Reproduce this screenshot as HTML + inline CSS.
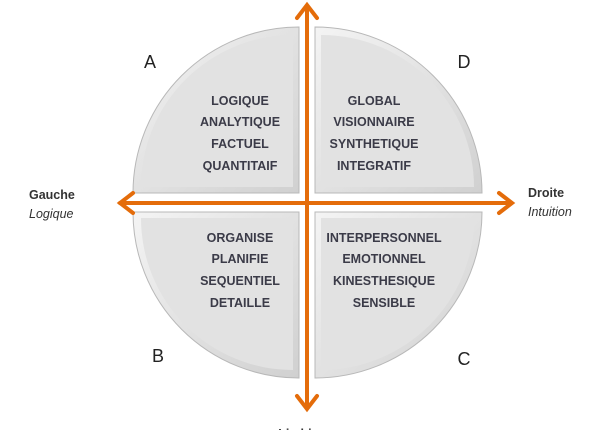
<!DOCTYPE html>
<html><head><meta charset="utf-8"><style>
html,body{margin:0;padding:0;background:#fff;}
svg{display:block;}
</style></head><body>
<svg width="610" height="430" viewBox="0 0 610 430" xmlns="http://www.w3.org/2000/svg">
<defs>
<linearGradient id="g" x1="0" y1="0" x2="1" y2="1">
<stop offset="0" stop-color="#f4f4f4"/><stop offset="1" stop-color="#d0d0d0"/>
</linearGradient>
</defs>
<g stroke="#b8b8b8" stroke-width="1" fill="url(#g)">
<path d="M299,193 L133,193 A166,166 0 0 1 299,27 Z"/>
<path d="M315,193 L315,27 A167,166 0 0 1 482,193 Z"/>
<path d="M299,212 L299,378 A166,166 0 0 1 133,212 Z"/>
<path d="M315,212 L482,212 A167,166 0 0 1 315,378 Z"/>
</g>
<g fill="#e2e2e2" stroke="none">
<path d="M293,187 L141,187 A152,152 0 0 1 293,35 Z"/>
<path d="M321,187 L321,35 A153,152 0 0 1 474,187 Z"/>
<path d="M293,218 L293,370 A152,152 0 0 1 141,218 Z"/>
<path d="M321,218 L474,218 A153,152 0 0 1 321,370 Z"/>
</g>
<g stroke="#E46C0A" stroke-width="4" fill="none" stroke-linecap="round" stroke-linejoin="miter">
<line x1="307" y1="6" x2="307" y2="408"/>
<line x1="120" y1="203" x2="511" y2="203"/>
<polyline points="297,18 307,5 317,18"/>
<polyline points="297,396 307,409 317,396"/>
<polyline points="133,193 120,203 133,213"/>
<polyline points="499,193 512,203 499,213"/>
</g>
<g font-family="Liberation Sans, sans-serif" font-weight="bold" font-size="12.5" fill="#3b3b48" text-anchor="middle" textLength="">
<text x="240" y="105">LOGIQUE</text>
<text x="240" y="126">ANALYTIQUE</text>
<text x="240" y="148">FACTUEL</text>
<text x="240" y="170">QUANTITAIF</text>
<text x="374" y="105">GLOBAL</text>
<text x="374" y="126">VISIONNAIRE</text>
<text x="374" y="148">SYNTHETIQUE</text>
<text x="374" y="170">INTEGRATIF</text>
<text x="240" y="242">ORGANISE</text>
<text x="240" y="263">PLANIFIE</text>
<text x="240" y="285">SEQUENTIEL</text>
<text x="240" y="307">DETAILLE</text>
<text x="384" y="242">INTERPERSONNEL</text>
<text x="384" y="263">EMOTIONNEL</text>
<text x="384" y="285">KINESTHESIQUE</text>
<text x="384" y="307">SENSIBLE</text>
</g>
<g font-family="Liberation Sans, sans-serif" font-size="18" fill="#222" text-anchor="middle">
<text x="150" y="68">A</text>
<text x="464" y="68">D</text>
<text x="158" y="362">B</text>
<text x="464" y="365">C</text>
</g>
<g font-family="Liberation Sans, sans-serif" font-size="12.5" fill="#333">
<text x="29" y="199" font-weight="bold">Gauche</text>
<text x="29" y="218" font-style="italic">Logique</text>
<text x="528" y="197" font-weight="bold">Droite</text>
<text x="528" y="216" font-style="italic">Intuition</text>
<text x="306" y="438" font-weight="bold" text-anchor="middle">Limbique</text>
</g>
</svg>
</body></html>
